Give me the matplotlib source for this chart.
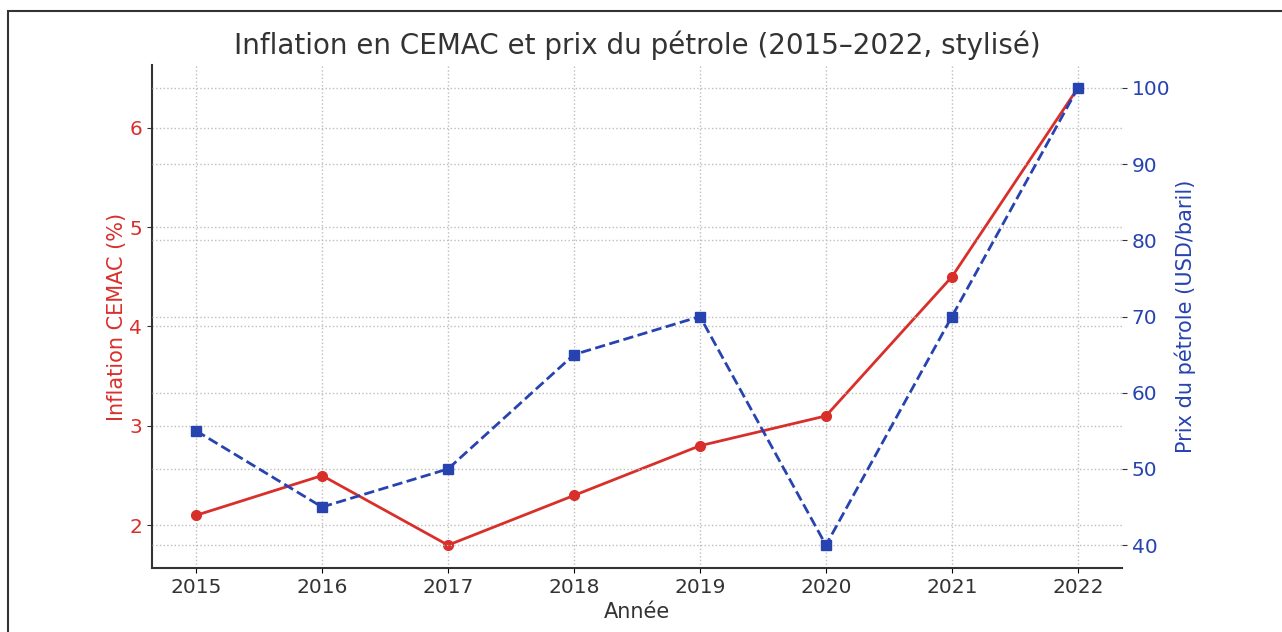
#!/usr/bin/env python3
import matplotlib
matplotlib.use("Agg")
import matplotlib.pyplot as plt
from matplotlib.patches import Rectangle

years = [2015, 2016, 2017, 2018, 2019, 2020, 2021, 2022]
inflation = [2.1, 2.5, 1.8, 2.3, 2.8, 3.1, 4.5, 6.4]
oil_price = [55, 45, 50, 65, 70, 40, 70, 100]

RED = '#d92f2b'
BLUE = '#2643b0'

plt.rcParams['font.family'] = ['DejaVu Sans']
plt.rcParams['font.size'] = 14

fig = plt.figure(figsize=(12.82, 6.32), dpi=100)
ax = fig.add_axes([152 / 1282, 1 - 568 / 632, (1122 - 152) / 1282, (568 - 65) / 632])

ax.plot(years, inflation, color=RED, marker='o', markersize=7, linewidth=2, zorder=3)
ax.set_ylabel('Inflation CEMAC (%)', color=RED, fontsize=15, labelpad=2)
ax.tick_params(axis='y', labelcolor=RED, labelsize=14.5, color='#333333')
ax.tick_params(axis='x', labelsize=14.5, labelcolor='#333333')
ax.set_xlabel('Année', fontsize=15, color='#333333', labelpad=4)
ax.set_xticks(years)
ax.grid(True, linestyle=':', color='#bdbdbd', linewidth=1.0)

ax2 = ax.twinx()
ax2.plot(years, oil_price, color=BLUE, marker='s', markersize=7, linewidth=2,
         linestyle='--', zorder=3)
ax2.set_ylabel('Prix du pétrole (USD/baril)', color=BLUE, fontsize=15, labelpad=3)
ax2.tick_params(axis='y', labelcolor=BLUE, labelsize=14.5, color='#333333')
ax2.grid(True, linestyle=':', color='#bdbdbd', linewidth=1.0)

for a in (ax, ax2):
    a.spines['top'].set_visible(False)
    a.spines['right'].set_visible(False)
ax2.spines['left'].set_visible(False)
ax2.spines['bottom'].set_visible(False)
for s in ('left', 'bottom'):
    ax.spines[s].set_linewidth(1.5)
    ax.spines[s].set_color('#333333')

ax.set_title('Inflation en CEMAC et prix du pétrole (2015–2022, stylisé)',
             fontsize=20, color='#333333', pad=8)

# frame around the figure (left and top edges visible)
fig.patches.append(Rectangle((8 / 1282, -0.1), 1.1, 1.1 - 11 / 632,
                             transform=fig.transFigure, fill=False,
                             edgecolor='#333333', linewidth=1.5))

fig.savefig('out.png', dpi=100)
